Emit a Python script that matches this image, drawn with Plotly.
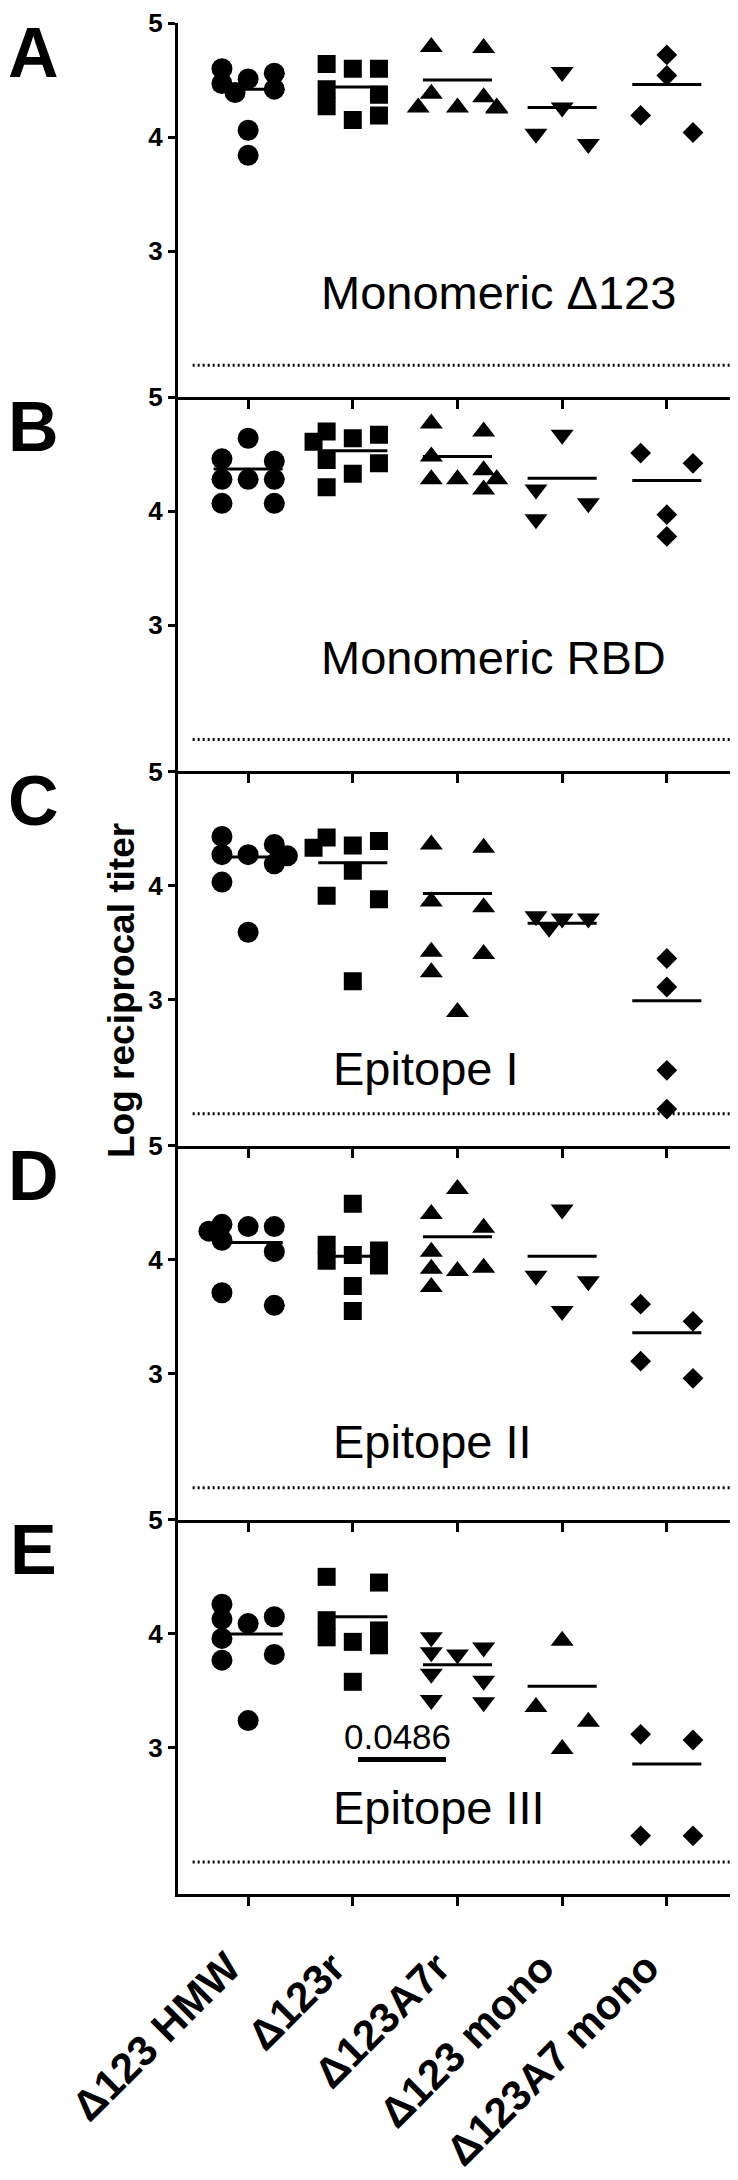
import plotly.graph_objects as go
from plotly.subplots import make_subplots

GROUPS = ["Δ123 HMW", "Δ123r", "Δ123A7r", "Δ123 mono", "Δ123A7 mono"]
PANEL_LETTERS = ["A", "B", "C", "D", "E"]
ANTIGENS = ["Monomeric Δ123", "Monomeric RBD", "Epitope I", "Epitope II", "Epitope III"]

# log reciprocal titer, one list per group (order of GROUPS)
A_TITERS = [
    [4.60, 4.56, 4.51, 4.47, 4.42, 4.39, 4.06, 3.84],
    [4.64, 4.60, 4.60, 4.42, 4.37, 4.27, 4.19, 4.15],
    [4.79, 4.78, 4.38, 4.35, 4.26, 4.26, 4.26, 4.25],
    [4.57, 4.26, 4.03, 3.94],
    [4.72, 4.54, 4.19, 4.04],
]
A_MEANS = [4.42, 4.44, 4.50, 4.26, 4.46]

B_TITERS = [
    [4.64, 4.46, 4.44, 4.28, 4.28, 4.28, 4.07, 4.07],
    [4.70, 4.67, 4.64, 4.61, 4.45, 4.42, 4.33, 4.21],
    [4.77, 4.70, 4.48, 4.36, 4.28, 4.28, 4.28, 4.19],
    [4.67, 4.19, 4.07, 3.93],
    [4.51, 4.42, 3.97, 3.78],
]
B_MEANS = [4.37, 4.53, 4.48, 4.29, 4.27]

C_TITERS = [
    [4.43, 4.36, 4.27, 4.27, 4.26, 4.19, 4.03, 3.59],
    [4.42, 4.39, 4.35, 4.33, 4.13, 3.91, 3.88, 3.16],
    [4.36, 4.33, 3.86, 3.81, 3.42, 3.40, 3.24, 2.89],
    [3.73, 3.71, 3.71, 3.63],
    [3.36, 3.11, 2.38, 2.04],
]
C_MEANS = [4.25, 4.20, 3.93, 3.67, 2.99]

D_TITERS = [
    [4.31, 4.29, 4.29, 4.25, 4.17, 4.07, 3.71, 3.60],
    [4.49, 4.13, 4.08, 4.04, 3.99, 3.95, 3.77, 3.55],
    [4.62, 4.40, 4.28, 4.07, 3.93, 3.92, 3.90, 3.76],
    [4.44, 3.86, 3.81, 3.55],
    [3.61, 3.46, 3.11, 2.96],
]
D_MEANS = [4.15, 4.03, 4.20, 4.03, 3.36]

E_TITERS = [
    [4.26, 4.15, 4.13, 4.09, 3.96, 3.82, 3.77, 3.24],
    [4.50, 4.45, 4.12, 4.03, 3.97, 3.93, 3.90, 3.58],
    [3.97, 3.88, 3.84, 3.82, 3.65, 3.59, 3.42, 3.40],
    [3.94, 3.36, 3.23, 2.99],
    [3.12, 3.07, 2.23, 2.23],
]
E_MEANS = [4.00, 4.15, 3.73, 3.54, 2.86]

DETECTION_LIMIT = 2.0
P_VALUE = "0.0486"  # panel E, Δ123r vs Δ123A7r

TITERS = [A_TITERS, B_TITERS, C_TITERS, D_TITERS, E_TITERS]
MEANS = [A_MEANS, B_MEANS, C_MEANS, D_MEANS, E_MEANS]

# ---- layout / style ----
W, H = 738, 2180
M_L, M_R, M_T, M_B = 170, 8, 15, 294
X_RANGE = [-0.67, 4.68]
Y_RANGE = [1.72, 5]
FONT = "Liberation Sans, Arial, sans-serif"

SYMBOLS = ["circle", "square", "triangle-up", "triangle-down", "diamond"]
SYMBOLS_E = ["circle", "square", "triangle-down", "triangle-up", "diamond"]
SIZES = {"circle": 21, "square": 18, "triangle-up": 20,
         "triangle-down": 20, "diamond": 16}

PANEL_PX = (H - M_T - M_B) / 5
PX_PER_UNIT = PANEL_PX / (Y_RANGE[1] - Y_RANGE[0])
PX_PER_CAT = (W - M_L - M_R) / (X_RANGE[1] - X_RANGE[0])
STEP = 0.125          # jitter step, in category units
SYMBOL_PX = 19.5      # points closer than this get spread out
MIN_GAP = 14

# antigen label placement (x left edge, y centre in data units)
LABEL_POS = [(0.68, 2.64), (0.68, 2.72), (0.79, 2.40), (0.79, 2.41), (0.79, 2.48)]


def swarm(values):
    order = sorted(range(len(values)), key=lambda i: -values[i])
    offsets = [0.0] * len(values)
    clusters = []
    for i in order:
        if clusters and (values[clusters[-1][-1]] - values[i]) * PX_PER_UNIT < SYMBOL_PX:
            clusters[-1].append(i)
        else:
            clusters.append([i])
    step_px = STEP * PX_PER_CAT
    slots = [-2, 2, 0, -1, 1, -3, 3]
    for c in clusters:
        if len(c) == 1:
            continue
        placed = []
        for i in c:
            prev = placed[-1][1] if placed else None
            for k in slots:
                if k == prev:
                    continue
                ok = all(((k - kk) * step_px) ** 2
                         + ((values[i] - values[j]) * PX_PER_UNIT) ** 2 >= MIN_GAP ** 2
                         for j, kk in placed)
                if ok:
                    break
            placed.append((i, k))
            offsets[i] = k * STEP
    return offsets


fig = make_subplots(rows=5, cols=1, vertical_spacing=0)

for p in range(5):
    row = p + 1
    symbols = SYMBOLS_E if p == 4 else SYMBOLS
    for g, vals in enumerate(TITERS[p]):
        offs = swarm(vals)
        fig.add_trace(go.Scatter(
            x=[g + o for o in offs], y=vals, mode="markers",
            marker=dict(symbol=symbols[g], size=SIZES[symbols[g]], color="black",
                        line=dict(width=0)),
            showlegend=False, hoverinfo="skip"), row=row, col=1)

    mx, my = [], []
    for g, m in enumerate(MEANS[p]):
        mx += [g - 0.33, g + 0.33, None]
        my += [m, m, None]
    fig.add_trace(go.Scatter(x=mx, y=my, mode="lines",
                             line=dict(color="black", width=3),
                             showlegend=False, hoverinfo="skip"), row=row, col=1)

    fig.add_trace(go.Scatter(x=[-0.53, X_RANGE[1]], y=[DETECTION_LIMIT] * 2, mode="lines",
                             line=dict(color="black", width=3, dash="2px,3px"),
                             showlegend=False, hoverinfo="skip"), row=row, col=1)

    fig.update_xaxes(range=X_RANGE, showline=True, linecolor="black", linewidth=3,
                     ticks="outside", tickvals=list(range(5)),
                     ticktext=["<b>%s</b>" % g for g in GROUPS],
                     ticklen=9, tickwidth=2.5, tickcolor="black",
                     showticklabels=(p == 4), tickangle=-45, automargin=False,
                     ticklabelstandoff=20, ticklabelshift=-20,
                     tickfont=dict(family=FONT, size=42, color="black"),
                     showgrid=False, zeroline=False, row=row, col=1)
    fig.update_yaxes(range=Y_RANGE, showline=True, linecolor="black", linewidth=3,
                     ticks="outside", tickvals=[3, 4, 5], automargin=False,
                     ticktext=["<b>3</b>", "<b>4</b>", "<b>5</b>"],
                     ticklen=7, tickwidth=2.5, tickcolor="black",
                     tickfont=dict(family=FONT, size=26, color="black"),
                     showgrid=False, zeroline=False, row=row, col=1)

    suffix = "" if p == 0 else str(row)
    lx, ly = LABEL_POS[p]
    fig.add_annotation(x=lx, y=ly, xref="x" + suffix, yref="y" + suffix,
                       text=ANTIGENS[p], showarrow=False, xanchor="left", yanchor="middle",
                       font=dict(family=FONT, size=47, color="black"))

    top = 1 - p * 0.2
    fig.add_annotation(x=(25 - M_L) / (W - M_L - M_R), y=top - 30 / (H - M_T - M_B),
                       xref="paper", yref="paper", text="<b>%s</b>" % PANEL_LETTERS[p],
                       showarrow=False, xanchor="center", yanchor="middle",
                       font=dict(family=FONT, size=70, color="black"))

# p-value bracket in panel E (between Δ123r and Δ123A7r)
fig.add_annotation(x=1.43, y=3.10, xref="x5", yref="y5", text=P_VALUE, showarrow=False,
                   font=dict(family=FONT, size=35, color="black"))
fig.add_shape(type="line", x0=1.05, x1=1.89, y0=2.90, y1=2.90, xref="x5", yref="y5",
              line=dict(color="black", width=5))

fig.add_annotation(x=(114 - M_L) / (W - M_L - M_R), y=(H - M_B - 983) / (H - M_T - M_B),
                   xref="paper", yref="paper", text="<b>Log reciprocal titer</b>",
                   textangle=-90, showarrow=False, xanchor="center", yanchor="middle",
                   font=dict(family=FONT, size=37, color="black", weight="bold"))

fig.update_layout(width=W, height=H, margin=dict(l=M_L, r=M_R, t=M_T, b=M_B,
                                                 autoexpand=False),
                  plot_bgcolor="white", paper_bgcolor="white", showlegend=False)

fig.write_html("out.html")
